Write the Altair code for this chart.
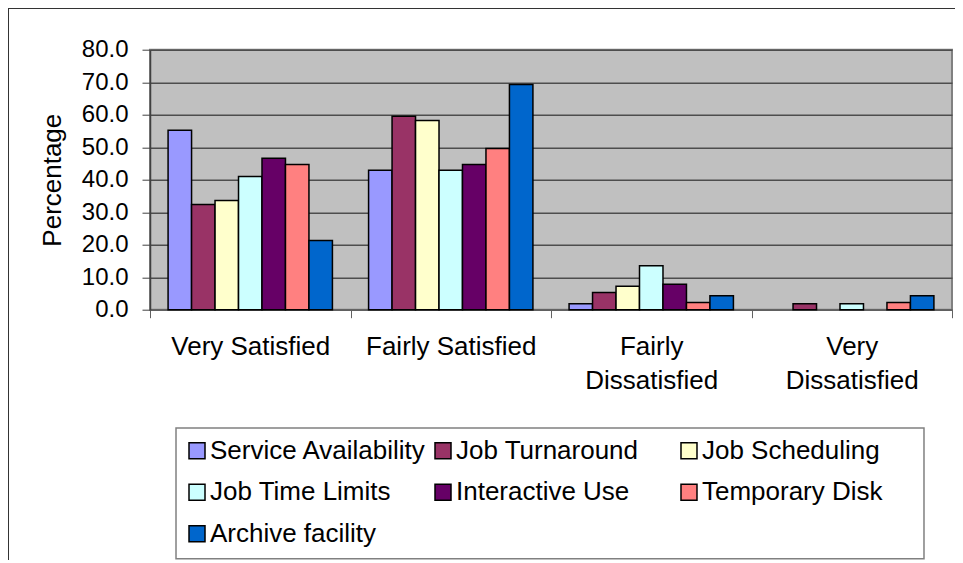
import altair as alt
import pandas as pd

categories = ["Very Satisfied", "Fairly Satisfied", "Fairly Dissatisfied", "Very Dissatisfied"]
series = ["Service Availability", "Job Turnaround", "Job Scheduling", "Job Time Limits",
          "Interactive Use", "Temporary Disk", "Archive facility"]
colors = ["#9999FF", "#993366", "#FFFFCC", "#CCFFFF", "#660066", "#FF8080", "#0066CC"]

service_availability = [55.2, 42.9, 1.8, 0.0]
job_turnaround = [32.4, 59.5, 5.3, 1.8]
job_scheduling = [33.6, 58.2, 7.2, 0.0]
job_time_limits = [41.0, 42.9, 13.5, 1.8]
interactive_use = [46.6, 44.7, 7.8, 0.0]
temporary_disk = [44.7, 49.6, 2.2, 2.2]
archive_facility = [21.3, 69.3, 4.3, 4.3]

y_ticks = [0, 10, 20, 30, 40, 50, 60, 70, 80]

all_values = [service_availability, job_turnaround, job_scheduling, job_time_limits,
              interactive_use, temporary_disk, archive_facility]
rows = []
for s, vals in zip(series, all_values):
    for c, v in zip(categories, vals):
        rows.append({"category": c, "series": s, "value": v})
df = pd.DataFrame(rows)

FONT = "Liberation Sans"

bars = alt.Chart(df).mark_bar(stroke="black", strokeWidth=1.5).encode(
    x=alt.X("category:N", sort=categories,
            scale=alt.Scale(paddingInner=0, paddingOuter=0),
            axis=alt.Axis(title=None, labelAngle=0,
                          labelExpr="indexof(datum.label, 'Dissatisfied') >= 0 ? split(datum.label, ' ') : datum.label",
                          labelFontSize=26, labelLineHeight=34, labelPadding=16,
                          labelColor="black", labelFont=FONT,
                          tickBand="extent", tickSize=8, tickColor="#606060",
                          domainColor="#606060", domainWidth=1.5, grid=False)),
    xOffset=alt.XOffset("series:N", sort=series,
                        scale=alt.Scale(paddingInner=0, paddingOuter=0.77)),
    y=alt.Y("value:Q", scale=alt.Scale(domain=[0, 80]),
            axis=alt.Axis(values=y_ticks, format=".1f", title="Percentage",
                          labelFontSize=24, labelPadding=14, labelColor="black", labelFont=FONT,
                          tickSize=8, tickColor="#404040", domainColor="#404040", domainWidth=1.5,
                          gridColor="#4d4d4d", gridWidth=1.5,
                          titleFontSize=26, titleFontWeight="normal", titleFont=FONT,
                          titleColor="black", titleX=-98, titleY=130, titleAngle=270,
                          titleAlign="center", titleBaseline="middle")),
    color=alt.Color("series:N", sort=series,
                    scale=alt.Scale(domain=series, range=colors),
                    legend=alt.Legend(title=None, orient="none", legendX=24, legendY=378,
                                      direction="horizontal", columns=3, gridAlign="all",
                                      columnPadding=3, rowPadding=15.5, padding=10,
                                      symbolType="square", symbolSize=256,
                                      symbolStrokeColor="black", symbolStrokeWidth=1.5,
                                      symbolOpacity=1,
                                      labelFontSize=26, labelFont=FONT, labelColor="black",
                                      labelLimit=400, labelOffset=0)),
    opacity=alt.condition("datum.value > 0", alt.value(1), alt.value(0)),
)

one = pd.DataFrame({"f": [0]})

frame = alt.Chart(one).mark_rect(
    fill="transparent", stroke="#333333", strokeWidth=2
).encode(
    x=alt.value(-142), x2=alt.value(900), y=alt.value(-41.7), y2=alt.value(700)
)

legend_box = alt.Chart(one).mark_rect(
    fill="white", stroke="#808080", strokeWidth=1.5
).encode(
    x=alt.value(26), x2=alt.value(774), y=alt.value(378.3), y2=alt.value(509)
)

chart = alt.layer(frame, legend_box, bars).properties(
    width=802, height=260,
    autosize=alt.AutoSizeParams(type="none"),
    padding={"left": 142, "top": 41.7, "right": 3, "bottom": 250},
).configure(font=FONT).configure_view(
    fill="#C0C0C0", stroke="#808080", strokeWidth=2
)

chart.save("out.html", embed_options={"renderer": "svg", "actions": False})
